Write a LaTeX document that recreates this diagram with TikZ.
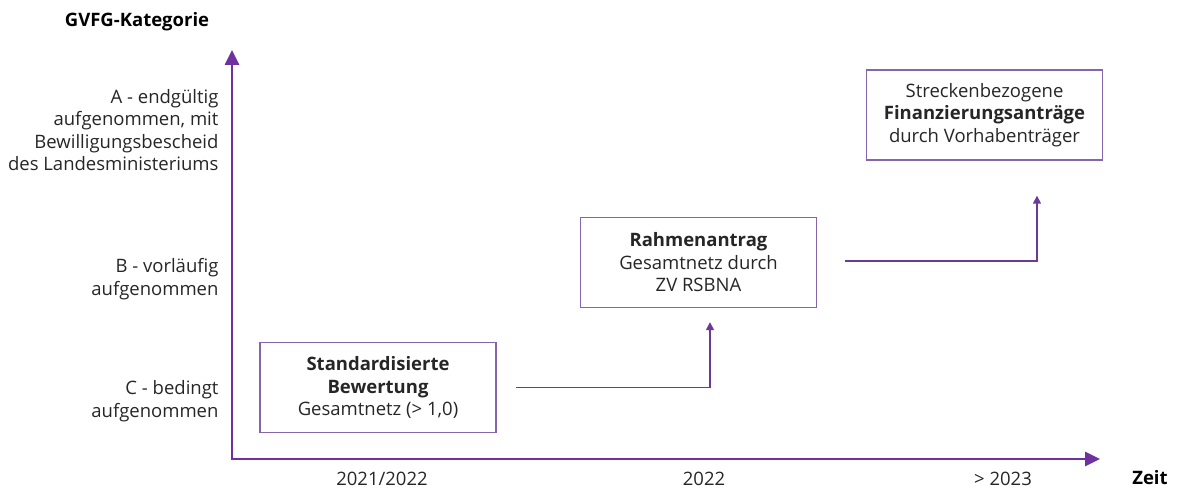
\documentclass[tikz,border=0pt]{standalone}
\usepackage{fontspec}
\setmainfont{Open Sans}
\usetikzlibrary{arrows.meta}
\definecolor{axispurple}{HTML}{7030A0}
\definecolor{linkpurple}{HTML}{6A3A96}
\definecolor{boxpurple}{HTML}{8565AC}
\begin{document}
\begin{tikzpicture}[x=1pt,y=-1pt,
  every node/.style={font=\fontsize{18.5}{22.5}\selectfont, text=black!85},
  axis/.style={draw=axispurple, line width=2.6pt, -{Triangle[length=15pt,width=14pt]}},
  phase/.style={draw=boxpurple, line width=1.4pt, minimum width=236pt, minimum height=90pt, align=center, inner sep=2pt},
  link/.style={draw=linkpurple, line width=1.5pt, -{Triangle[length=8pt,width=8pt]}},
  level/.style={align=right, anchor=east},
  heading/.style={font=\fontsize{18.5}{22.5}\selectfont\bfseries, text=black}]
\useasboundingbox (0,0) rectangle (1178,489);

\coordinate (origin) at (232,459);
\coordinate (ytip) at (232,50);
\coordinate (xtip) at (1100,459);
\draw[axis] ([yshift=-1.3pt]origin) -- (ytip);
\draw[axis] ([xshift=-1.3pt]origin) -- (xtip);

\node[heading] (title) at (137,22) {GVFG-Kategorie};
\node[heading] (zeit) at (1150,478) {Zeit};

\node[level] (catA) at (222,130) {A - endgültig\\aufgenommen, mit\\Bewilligungsbescheid\\des Landesministeriums};
\node[level] (catB) at (222,279) {B - vorläufig\\aufgenommen};
\node[level] (catC) at (222,401) {C - bedingt\\aufgenommen};

\node (yearA) at (382,479) {2021/2022};
\node (yearB) at (704,479) {2022};
\node (yearC) at (1003,479) {> 2023};

\node[phase] (bewertung) at (378,387.5) {\textbf{Standardisierte}\\\textbf{Bewertung}\\Gesamtnetz (> 1,0)};
\node[phase] (rahmen) at (698.5,262.5) {\textbf{Rahmenantrag}\\Gesamtnetz durch\\ZV RSBNA};
\node[phase] (finanz) at (984.5,115) {Streckenbezogene\\\textbf{Finanzierungsanträge}\\durch Vorhabenträger};

\draw[link] ([xshift=19pt]bewertung.east) -| ([xshift=11.5pt,yshift=-14pt]rahmen.south);
\draw[link] ([xshift=28pt,yshift=1.5pt]rahmen.east) -| ([xshift=52.5pt,yshift=-35pt]finanz.south);
\end{tikzpicture}
\end{document}
